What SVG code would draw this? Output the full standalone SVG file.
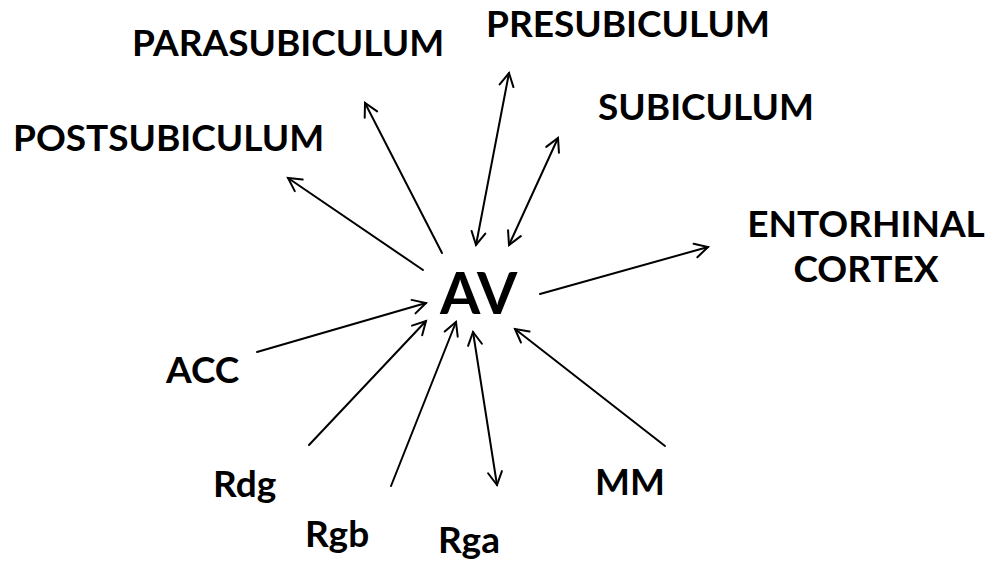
<svg xmlns="http://www.w3.org/2000/svg" width="989" height="563" viewBox="0 0 989 563">
  <style>
    .lbl { font-family: Lato, "Open Sans", "Liberation Sans", sans-serif; font-weight: bold; font-size: 37px; fill: #000; }
    .hub { font-family: Lato, "Open Sans", "Liberation Sans", sans-serif; font-weight: bold; font-size: 58px; fill: #000; }
    .edge { stroke: #000; stroke-width: 2; fill: none; stroke-linecap: round; }
  </style>
  <defs>
    <marker id="head" markerUnits="userSpaceOnUse" viewBox="-16 -10 20 20" markerWidth="20" markerHeight="20" refX="0" refY="0" orient="auto-start-reverse" overflow="visible">
      <path d="M -13 -7 L 0 0 L -13 7" fill="none" stroke="#000" stroke-width="2" stroke-linecap="round" stroke-linejoin="miter"/>
    </marker>
  </defs>
  <rect width="989" height="563" fill="#fff"/>

  <g id="connectors">
    <line class="edge" x1="442" y1="253" x2="365" y2="103" marker-end="url(#head)"/>
    <line class="edge" x1="423" y1="270" x2="288" y2="178" marker-end="url(#head)"/>
    <line class="edge" x1="476" y1="245" x2="509" y2="73" marker-start="url(#head)" marker-end="url(#head)"/>
    <line class="edge" x1="509" y1="245" x2="558" y2="138" marker-start="url(#head)" marker-end="url(#head)"/>
    <line class="edge" x1="540" y1="294" x2="708" y2="247" marker-end="url(#head)"/>
    <line class="edge" x1="257" y1="352" x2="426" y2="303" marker-end="url(#head)"/>
    <line class="edge" x1="309" y1="445" x2="426" y2="321" marker-end="url(#head)"/>
    <line class="edge" x1="391" y1="486" x2="456" y2="322" marker-end="url(#head)"/>
    <line class="edge" x1="473" y1="332" x2="497" y2="485" marker-start="url(#head)" marker-end="url(#head)"/>
    <line class="edge" x1="665" y1="446" x2="515" y2="329" marker-end="url(#head)"/>
  </g>

  <g id="av"><text class="hub" x="440" y="314">AV</text></g>
  <g id="parasubiculum"><text class="lbl" x="132" y="56">PARASUBICULUM</text></g>
  <g id="presubiculum"><text class="lbl" x="486" y="37">PRESUBICULUM</text></g>
  <g id="postsubiculum"><text class="lbl" x="13" y="151">POSTSUBICULUM</text></g>
  <g id="subiculum"><text class="lbl" x="598" y="120">SUBICULUM</text></g>
  <g id="entorhinal">
    <text class="lbl" x="866" y="237" text-anchor="middle">ENTORHINAL</text>
    <text class="lbl" x="866" y="282" text-anchor="middle">CORTEX</text>
  </g>
  <g id="acc"><text class="lbl" x="166" y="383">ACC</text></g>
  <g id="rdg"><text class="lbl" x="213" y="497">Rdg</text></g>
  <g id="rgb"><text class="lbl" x="305" y="547">Rgb</text></g>
  <g id="rga"><text class="lbl" x="438" y="553">Rga</text></g>
  <g id="mm"><text class="lbl" x="595" y="495">MM</text></g>
</svg>
